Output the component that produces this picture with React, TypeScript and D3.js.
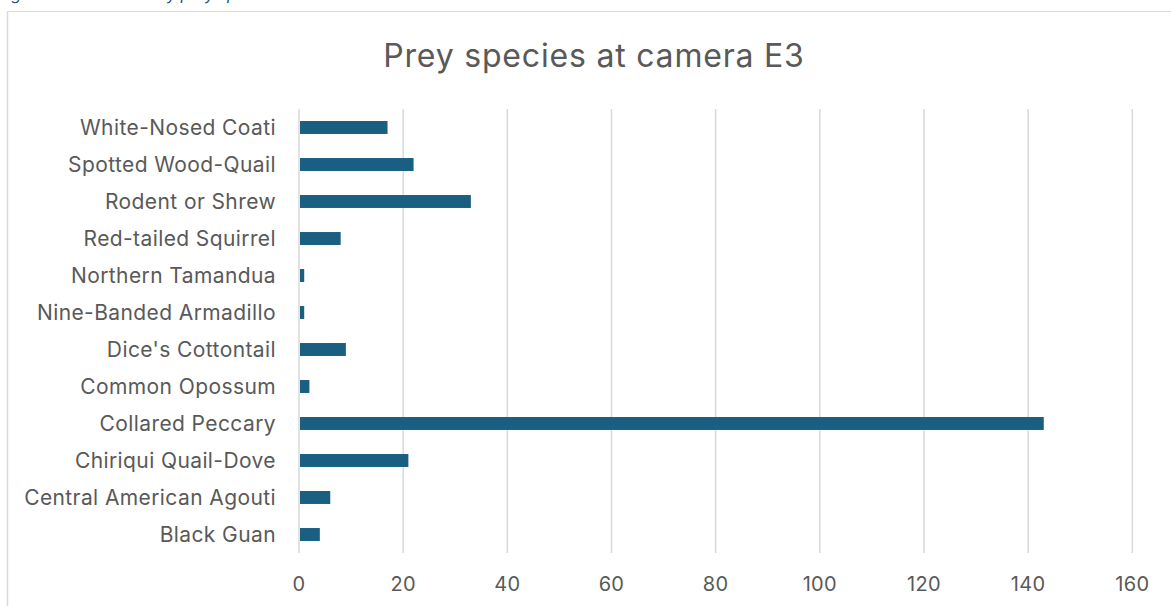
import React from "react";
import * as d3 from "d3";

// Species recorded by camera E3, listed top to bottom
const species: string[] = [
  "White-Nosed Coati",
  "Spotted Wood-Quail",
  "Rodent or Shrew",
  "Red-tailed Squirrel",
  "Northern Tamandua",
  "Nine-Banded Armadillo",
  "Dice's Cottontail",
  "Common Opossum",
  "Collared Peccary",
  "Chiriqui Quail-Dove",
  "Central American Agouti",
  "Black Guan",
];

// Detection counts per species (same order as above)
const counts: number[] = [17, 22, 33, 8, 1, 1, 9, 2, 143, 21, 6, 4];

// X-axis tick values
const xTicks: number[] = [0, 20, 40, 60, 80, 100, 120, 140, 160];

const title = "Prey species at camera E3";
const caption = "Figure 11: Detections by prey species";

const W = 1171;
const H = 606;
const FONT = "Inter, 'Open Sans', sans-serif";
const TEXT = "#595959";
const GRID = "#d9d9d9";
const BAR = "#1a5f82";

export default function App() {
  const plot = { left: 299, right: 1132.3, top: 109, bottom: 553 };

  const x = d3.scaleLinear().domain([0, 160]).range([plot.left, plot.right]);
  const y = d3
    .scaleBand<string>()
    .domain(species)
    .range([plot.top, plot.bottom])
    .paddingInner(0.65)
    .paddingOuter(0.325);

  return (
    <svg
      width={W}
      height={H}
      style={{ position: "absolute", left: 0, top: 0, background: "#fff" }}
      fontFamily={FONT}
    >
      {/* Caption line running above the chart frame, only its lowest strokes in view */}
      <text x={-2} y={0} fontSize={16} fontStyle="italic" fill="#1f4e79">
        {caption}
      </text>

      {/* Chart frame */}
      <line x1={7.5} x2={7.5} y1={11.5} y2={H} stroke={GRID} strokeWidth={1.5} />
      <line x1={7.5} x2={W} y1={11.5} y2={11.5} stroke={GRID} strokeWidth={1} />

      {/* Title */}
      <text
        x={594}
        y={66.5}
        fontSize={32}
        letterSpacing={0.8}
        fill={TEXT}
        textAnchor="middle"
      >
        {title}
      </text>

      {/* Vertical gridlines */}
      {xTicks.map((t) => (
        <line
          key={t}
          x1={x(t)}
          x2={x(t)}
          y1={plot.top}
          y2={plot.bottom}
          stroke={GRID}
          strokeWidth={1.5}
        />
      ))}

      {/* Bars */}
      {species.map((s, i) => (
        <rect
          key={s}
          x={x(0) + 1}
          y={y(s)}
          width={Math.max(0, x(counts[i]) - x(0) - 1)}
          height={y.bandwidth()}
          fill={BAR}
        />
      ))}

      {/* Category labels */}
      {species.map((s) => (
        <text
          key={s}
          x={276}
          y={(y(s) as number) + y.bandwidth() / 2 + 7.5}
          textAnchor="end"
          fontSize={21}
          letterSpacing={0.4}
          fill={TEXT}
        >
          {s}
        </text>
      ))}

      {/* X tick labels */}
      {xTicks.map((t) => (
        <text
          key={t}
          x={x(t)}
          y={590.5}
          textAnchor="middle"
          fontSize={20}
          letterSpacing={0.3}
          fill={TEXT}
        >
          {t}
        </text>
      ))}
    </svg>
  );
}
